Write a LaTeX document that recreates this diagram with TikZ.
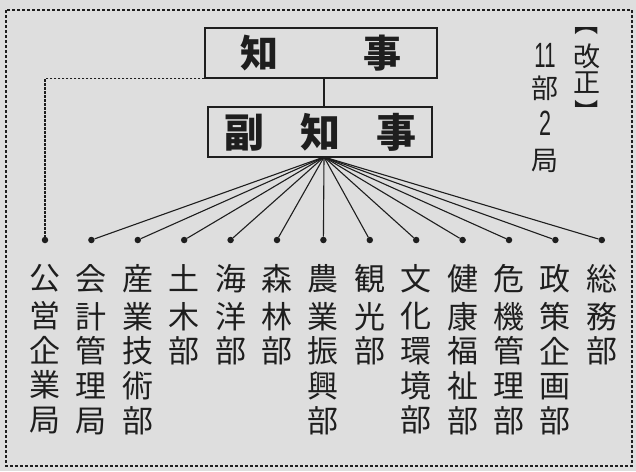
\documentclass[tikz,border=0pt]{standalone}
\usepackage{fontspec}
\usepackage{graphicx}
\setmainfont{Noto Sans CJK JP}
\newfontfamily\digitfont{Liberation Sans}
\definecolor{bg}{RGB}{222,222,222}
\definecolor{ink}{RGB}{30,30,30}
\begin{document}
\begin{tikzpicture}[x=1pt,y=-1pt,
  titlebox/.style={draw=ink, line width=1.1pt, fill=bg, inner sep=0pt, text=ink},
  fan/.style={draw=ink, line width=1.1pt},
  leaf/.style={circle, fill=ink, inner sep=0pt, minimum size=6.5pt},
  dept/.style={anchor=north, inner sep=0pt, align=center, text=ink, font=\fontsize{31}{34.7}\selectfont},
  side/.style={inner sep=0pt, text=ink, font=\fontsize{27}{30}\selectfont},
  border/.style={draw=ink, line width=2.6pt, dash pattern=on 2.6pt off 2.4pt},
  link/.style={draw=ink, line width=1.2pt, dash pattern=on 2.4pt off 1.6pt}]
\fill[bg] (0,0) rectangle (636,471);
\useasboundingbox (0,0) rectangle (636,471);
\draw[border] (6,10) rectangle (632,466);
% boxes
\node[titlebox, minimum width=232pt, minimum height=50pt, font=\fontsize{38}{40}\selectfont\bfseries] (chiji) at (321,53) {知\hspace{85pt}事};
\node[titlebox, minimum width=224pt, minimum height=50pt, font=\fontsize{40}{42}\selectfont\bfseries] (fuku) at (320,132) {副\hspace{36pt}知\hspace{36pt}事};
\coordinate (top) at (324,78);
\coordinate (apex) at (324,157);
\draw[fan] (top) -- (324,107);
% departments
\foreach \i/\t in {0/{公\\営\\企\\業\\局},1/{会\\計\\管\\理\\局},2/{産\\業\\技\\術\\部},3/{土\\木\\部},4/{海\\洋\\部},5/{森\\林\\部},6/{農\\業\\振\\興\\部},7/{観\\光\\部},8/{文\\化\\環\\境\\部},9/{健\\康\\福\\祉\\部},10/{危\\機\\管\\理\\部},11/{政\\策\\企\\画\\部},12/{総\\務\\部}}{
  \node[leaf] (d\i) at ({45+46.4*\i},240) {};
  \node[dept] (c\i) at ({45+46.4*\i},264.5) {\strut\t};
}
\foreach \i in {1,...,12}{ \draw[fan] (apex) -- (d\i); }
\draw[link] (chiji.south west) -| (d0);
% side notes
\node[side, rotate=-90, font=\fontsize{24}{26}\selectfont] (r0) at (587,24) {【};
\node[side] (r1) at (587,56) {改};
\node[side] (r2) at (587,83) {正};
\node[side, rotate=-90, font=\fontsize{24}{26}\selectfont] (r3) at (587,111) {】};
\node[side] (s0) at (545,55) {\digitfont\scalebox{0.75}[1.3]{11}};
\node[side] (s1) at (545,88) {部};
\node[side] (s2) at (545,123) {\digitfont\scalebox{0.8}[1.3]{2}};
\node[side] (s3) at (545,161) {局};
\end{tikzpicture}
\end{document}
